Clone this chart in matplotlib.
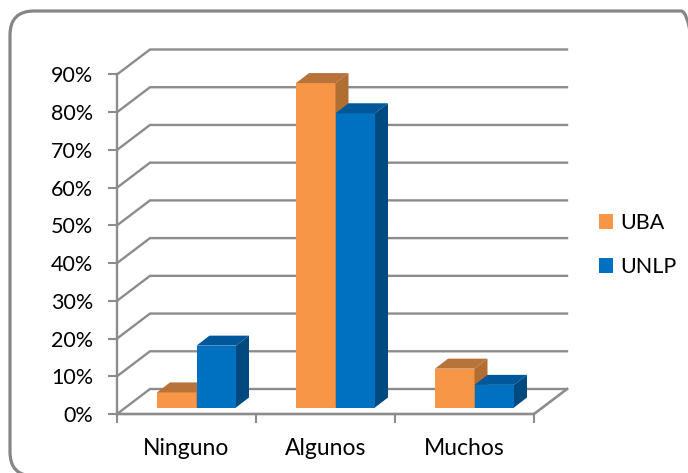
import matplotlib
matplotlib.use("Agg")
import matplotlib.pyplot as plt
from matplotlib.patches import FancyBboxPatch, Patch

plt.rcParams['font.family'] = ['Lato', 'DejaVu Sans']

categories = ["Ninguno", "Algunos", "Muchos"]
uba = [4, 86, 10.3]
unlp = [16.4, 78, 6]
series_names = ["UBA", "UNLP"]
yticks = [0, 10, 20, 30, 40, 50, 60, 70, 80, 90]

W, H = 688, 473

# front plane of the fake 3D box, in pixels
left, right, top, bottom = 117, 534, 74.5, 414

fig = plt.figure(figsize=(W / 100, H / 100), dpi=100)
ax = fig.add_axes([left / W, 1 - bottom / H, (right - left) / W, (bottom - top) / H])
ax.set_xlim(0, 3)
ax.set_ylim(0, 90)
ax.axis("off")

# pixel sizes turned into data units
px_x = 3 / (right - left)
px_y = 90 / (bottom - top)

wall_dx, wall_dy = 33 * px_x, 25 * px_y
bar_dx, bar_dy = 13 * px_x, 10 * px_y
bar_w = 39.5 * px_x
bar_start = 40 * px_x
bar_y0 = 6.5 * px_y

grid_col = "#8c8c8c"
colors = {
    "UBA": ("#F79646", "#B8733A", "#B06E33"),
    "UNLP": ("#0070C0", "#00579A", "#004A80"),
}

# walls
for v in yticks:
    xs = [0, wall_dx, 3 + wall_dx]
    ys = [v, v + wall_dy, v + wall_dy]
    ax.plot(xs, ys, color=grid_col, lw=1.7, clip_on=False, zorder=1, solid_joinstyle="miter")
    ax.plot([-8 * px_x, 0], [v, v], color=grid_col, lw=1.5, clip_on=False, zorder=1)
ax.plot([0, 0], [0, 90], color=grid_col, lw=1.7, clip_on=False, zorder=1)
ax.plot([0, 3, 3 + wall_dx], [0, 0, wall_dy], color=grid_col, lw=1.9, clip_on=False, zorder=1)
for i in range(4):
    ax.plot([i, i], [0, -8 * px_y], color=grid_col, lw=1.5, clip_on=False, zorder=1)


def draw_bar(x, val, name):
    front, roof, side = colors[name]
    y0 = bar_y0
    y1 = y0 + val
    ax.fill([x, x + bar_w, x + bar_w, x], [y0, y0, y1, y1], color=front, lw=0, clip_on=False, zorder=3)
    ax.fill([x, x + bar_dx, x + bar_w + bar_dx, x + bar_w], [y1, y1 + bar_dy, y1 + bar_dy, y1],
            color=roof, lw=0, clip_on=False, zorder=3)
    ax.fill([x + bar_w, x + bar_w + bar_dx, x + bar_w + bar_dx, x + bar_w],
            [y0, y0 + bar_dy, y1 + bar_dy, y1], color=side, lw=0, clip_on=False, zorder=3)


for i in range(len(categories)):
    draw_bar(i + bar_start, uba[i], "UBA")
    draw_bar(i + bar_start + bar_w, unlp[i], "UNLP")

# labels
for v in yticks:
    ax.text(-24 * px_x, v - 2 * px_y, f"{v}%", ha="right", va="center", fontsize=15.5, color="black", clip_on=False)
for i, c in enumerate(categories):
    ax.text(i + 0.5, -34 * px_y, c, ha="center", va="center", fontsize=16.5, color="black", clip_on=False)

handles = [Patch(color=colors[n][0], lw=0) for n in series_names]
fig.legend(handles, series_names, loc="upper left", bbox_to_anchor=(599 / W, 1 - 213 / H),
           frameon=False, fontsize=15.5, handlelength=0.65, handleheight=0.65,
           handletextpad=0.35, labelspacing=1.12, borderpad=0, borderaxespad=0)

# chart frame with rounded corners, runs off the right and bottom of the image
frame = FancyBboxPatch((10, H - 476), 695, 465, boxstyle="round,pad=0,rounding_size=24",
                       transform=None, facecolor="none", edgecolor="#868686", lw=2.3)
fig.add_artist(frame)

fig.savefig("out.png", dpi=100, facecolor="white")
